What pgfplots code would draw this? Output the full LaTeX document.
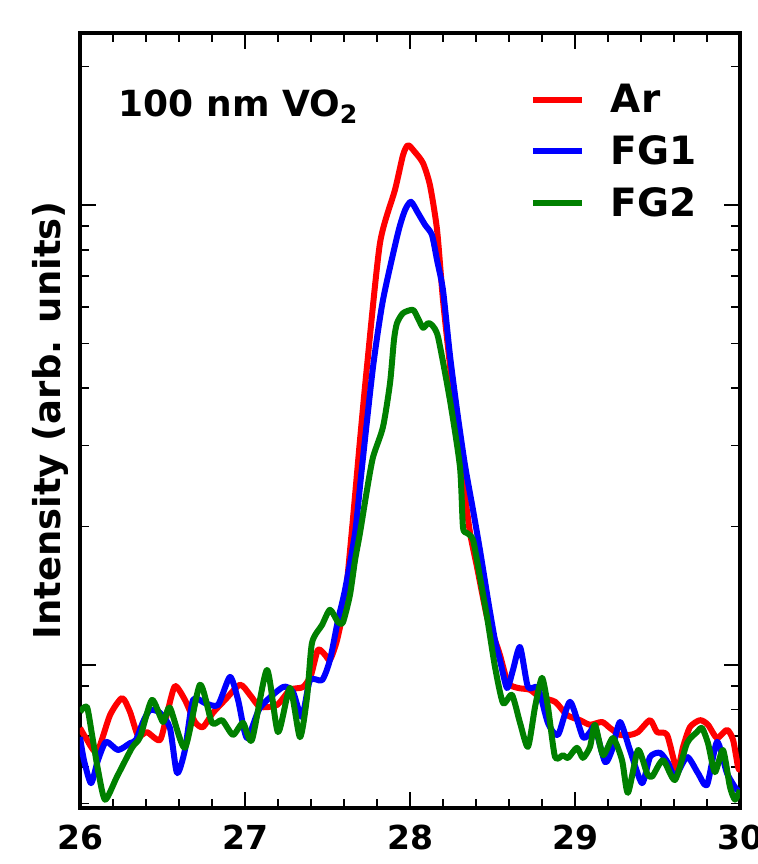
\documentclass[border=0pt]{standalone}
\usepackage{fontspec}
\setmainfont{DejaVu Sans}
\usepackage{pgfplots}
\usepackage{pgfplotstable}
\pgfplotsset{compat=1.18}
\definecolor{fggreen}{RGB}{0,128,0}

% y = log10(intensity), arbitrary units
\pgfplotstableread{
x y
26.000 1.863
26.036 1.841
26.103 1.811
26.182 1.891
26.255 1.928
26.303 1.898
26.352 1.846
26.406 1.854
26.485 1.837
26.533 1.902
26.576 1.954
26.636 1.924
26.697 1.876
26.745 1.865
26.806 1.896
26.879 1.924
26.970 1.957
27.030 1.935
27.091 1.909
27.194 1.913
27.273 1.946
27.352 1.952
27.400 1.978
27.442 2.033
27.485 2.022
27.515 2.011
27.558 2.054
27.606 2.141
27.648 2.293
27.697 2.489
27.739 2.648
27.818 2.917
27.909 3.033
27.958 3.109
27.988 3.130
28.030 3.115
28.079 3.091
28.121 3.043
28.164 2.946
28.200 2.793
28.242 2.652
28.285 2.504
28.321 2.402
28.364 2.287
28.406 2.213
28.467 2.104
28.515 2.054
28.545 2.022
28.594 1.961
28.655 1.950
28.727 1.946
28.788 1.930
28.879 1.920
28.952 1.891
29.030 1.880
29.091 1.870
29.164 1.876
29.212 1.863
29.273 1.848
29.333 1.848
29.382 1.854
29.455 1.880
29.497 1.854
29.558 1.848
29.618 1.772
29.655 1.822
29.697 1.865
29.758 1.880
29.806 1.870
29.861 1.841
29.921 1.859
29.958 1.837
29.988 1.778
30.000 1.772
}\ardata

\pgfplotstableread{
x y
26.000 1.843
26.024 1.793
26.067 1.743
26.109 1.793
26.158 1.833
26.230 1.815
26.303 1.830
26.339 1.837
26.382 1.876
26.424 1.902
26.485 1.896
26.545 1.863
26.588 1.765
26.636 1.815
26.685 1.924
26.758 1.917
26.836 1.913
26.909 1.974
26.958 1.924
27.012 1.841
27.091 1.907
27.230 1.952
27.291 1.941
27.345 1.887
27.394 1.967
27.467 1.967
27.515 2.011
27.564 2.098
27.606 2.163
27.667 2.287
27.709 2.430
27.776 2.648
27.836 2.793
27.927 2.939
27.970 2.989
28.006 3.007
28.048 2.983
28.091 2.957
28.133 2.935
28.164 2.880
28.200 2.815
28.242 2.674
28.285 2.554
28.333 2.435
28.382 2.337
28.424 2.250
28.473 2.141
28.515 2.054
28.545 2.011
28.588 1.950
28.624 1.989
28.667 2.039
28.715 1.952
28.776 1.950
28.836 1.874
28.897 1.848
28.970 1.920
29.048 1.843
29.091 1.854
29.121 1.865
29.182 1.789
29.224 1.815
29.273 1.876
29.333 1.815
29.406 1.743
29.455 1.800
29.515 1.809
29.564 1.787
29.606 1.757
29.679 1.800
29.745 1.765
29.800 1.739
29.861 1.833
29.921 1.765
29.982 1.728
30.000 1.728
}\fgonedata

\pgfplotstableread{
x y
26.000 1.898
26.042 1.909
26.073 1.848
26.109 1.772
26.152 1.707
26.224 1.757
26.315 1.820
26.364 1.843
26.436 1.924
26.503 1.876
26.545 1.907
26.636 1.820
26.727 1.957
26.800 1.874
26.861 1.880
26.927 1.848
26.988 1.874
27.042 1.837
27.133 1.989
27.200 1.854
27.273 1.950
27.333 1.843
27.376 1.930
27.406 2.048
27.467 2.087
27.515 2.120
27.564 2.093
27.594 2.093
27.636 2.152
27.667 2.228
27.697 2.287
27.739 2.380
27.776 2.452
27.836 2.517
27.879 2.613
27.903 2.707
27.921 2.743
27.958 2.765
28.018 2.772
28.048 2.754
28.079 2.733
28.109 2.743
28.133 2.739
28.170 2.713
28.242 2.576
28.303 2.430
28.321 2.300
28.345 2.287
28.382 2.272
28.424 2.191
28.467 2.104
28.515 1.996
28.564 1.917
28.618 1.935
28.667 1.874
28.715 1.822
28.758 1.909
28.800 1.972
28.836 1.909
28.879 1.800
28.927 1.804
28.958 1.798
29.012 1.820
29.048 1.798
29.091 1.822
29.121 1.870
29.170 1.804
29.230 1.841
29.285 1.793
29.321 1.722
29.382 1.815
29.436 1.765
29.467 1.757
29.533 1.793
29.606 1.750
29.679 1.830
29.739 1.854
29.770 1.863
29.806 1.830
29.848 1.767
29.897 1.815
29.939 1.735
29.970 1.707
30.000 1.728
}\fgtwodata

\begin{document}
\begin{tikzpicture}
\begin{axis}[
    at={(0,0)}, anchor=south west,
    scale only axis, width=330pt, height=387.5pt,
    xmin=26, xmax=30, ymin=1.689, ymax=3.374,
    xtick={26,27,28,29,30}, minor x tick num=4,
    ytick={2,3}, yticklabels={},
    minor ytick={1.699,1.778,1.845,1.903,1.954,2.301,2.477,2.602,2.699,2.778,2.845,2.903,2.954,3.301},
    tick align=inside, tick pos=both, xticklabel pos=lower,
    major tick length=8pt, minor tick length=4.5pt,
    every tick/.append style={black, line width=0.9pt},
    axis line style={line width=2.2pt},
    /pgf/number format/assume math mode=true,
    xticklabel style={font=\fontsize{16.5}{18}\selectfont\bfseries, yshift=-5pt},
    ylabel={Intensity (arb. units)},
    ylabel style={font=\fontsize{18.5}{21}\selectfont\bfseries,
        at={(axis description cs:-0.006,0.5)}, anchor=south},
    legend style={draw=none, fill=none, at={(axis description cs:0.672,0.945)},
        anchor=north west, font=\fontsize{19.5}{23}\selectfont\bfseries, row sep=6pt,
        /tikz/every odd column/.append style={column sep=11pt}},
    legend cell align=left,
    legend image code/.code={\draw[#1, line width=3pt] (0pt,0pt) -- (24.5pt,0pt);},
]
\addplot[red, line width=3pt, smooth, tension=0.4, line join=round] table {\ardata};
\addplot[blue, line width=3pt, smooth, tension=0.4, line join=round] table {\fgonedata};
\addplot[fggreen, line width=3pt, smooth, tension=0.4, line join=round] table {\fgtwodata};
\legend{Ar,FG1,FG2}
\node[anchor=base west, inner sep=0pt, font=\fontsize{18}{21}\selectfont\bfseries]
    at (rel axis cs:0.058,0.892) {100 nm VO\textsubscript{2}};
\end{axis}
\pgfresetboundingbox
\path[use as bounding box] (-40pt,-28pt) rectangle (338.5pt,404pt);
\end{tikzpicture}
\end{document}
